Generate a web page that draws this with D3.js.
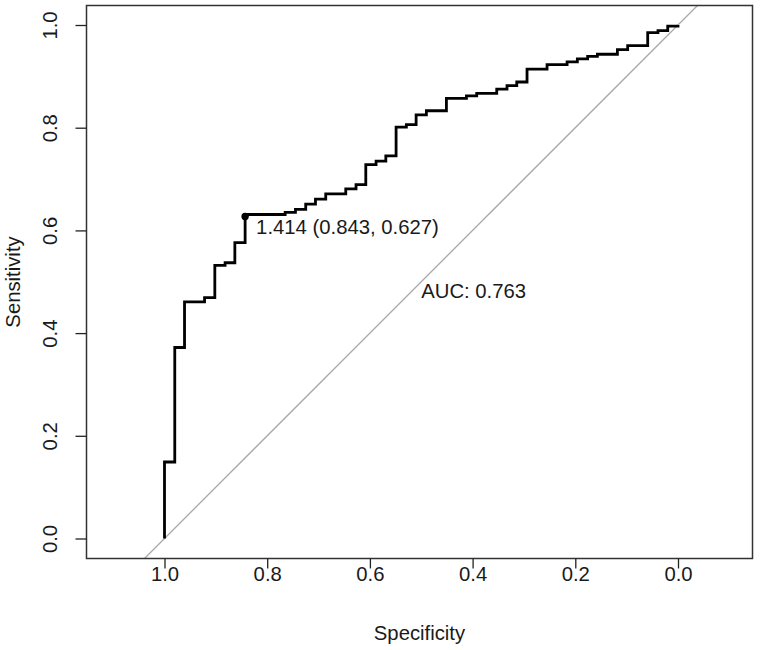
<!DOCTYPE html>
<html>
<head>
<meta charset="utf-8">
<script src="https://cdn.jsdelivr.net/npm/d3@7/dist/d3.min.js"></script>
<style>
  html, body { margin: 0; padding: 0; background: #fff; }
  svg { display: block; }
  text { font-family: "Liberation Sans", Arial, Helvetica, sans-serif; fill: #1a1a1a; }
</style>
</head>
<body>
<svg id="chart" width="760" height="650"></svg>
<script>
// ---- data ----
const specificity = [1.000,1.000,0.980,0.980,0.961,0.961,0.922,0.922,0.902,0.902,0.882,0.882,0.863,0.863,0.843,0.843,0.843,
  0.765,0.765,0.745,0.745,0.725,0.725,0.706,0.706,0.686,0.686,0.647,0.647,0.627,0.627,0.608,0.608,0.588,0.588,0.569,0.569,
  0.549,0.549,0.529,0.529,0.510,0.510,0.490,0.490,0.451,0.451,0.412,0.412,0.392,0.392,0.353,0.353,0.333,0.333,0.314,0.314,
  0.294,0.294,0.255,0.255,0.216,0.216,0.196,0.196,0.176,0.176,0.157,0.157,0.118,0.118,0.098,0.098,0.059,0.059,0.039,0.039,
  0.020,0.020,0.000,0.000];
const sensitivity = [0.000,0.149,0.149,0.372,0.372,0.461,0.461,0.469,0.469,0.532,0.532,0.537,0.537,0.576,0.576,0.627,0.631,
  0.631,0.635,0.635,0.641,0.641,0.651,0.651,0.661,0.661,0.671,0.671,0.681,0.681,0.689,0.689,0.728,0.728,0.735,0.735,0.745,
  0.745,0.801,0.801,0.806,0.806,0.825,0.825,0.833,0.833,0.857,0.857,0.862,0.862,0.867,0.867,0.875,0.875,0.882,0.882,0.889,
  0.889,0.914,0.914,0.923,0.923,0.928,0.928,0.934,0.934,0.939,0.939,0.943,0.943,0.952,0.952,0.960,0.960,0.985,0.985,0.989,
  0.989,0.998,0.998,1.000];
const xTicks = [1.0, 0.8, 0.6, 0.4, 0.2, 0.0];
const yTicks = [0.0, 0.2, 0.4, 0.6, 0.8, 1.0];
const bestThreshold = 1.414;
const bestSpec = 0.843;
const bestSens = 0.627;
const aucValue = 0.763;
const xLabel = "Specificity";
const yLabel = "Sensitivity";

// ---- layout ----
const svg = d3.select("#chart");
const box = { left: 86.5, right: 752.5, top: 5.5, bottom: 558.5 };
const x = d3.scaleLinear().domain([1, 0]).range([164.5, 678]);
const y = d3.scaleLinear().domain([0, 1]).range([538.5, 25]);
const fs = 20.3;
const ff = "'Liberation Sans', Arial, sans-serif";

// diagonal reference line (clipped to the box)
svg.append("clipPath").attr("id", "plotclip").append("rect")
  .attr("x", box.left).attr("y", box.top)
  .attr("width", box.right - box.left).attr("height", box.bottom - box.top);

const dLo = y.invert(box.bottom), dHi = y.invert(box.top);
svg.append("line")
  .attr("clip-path", "url(#plotclip)")
  .attr("x1", x(1 - dLo)).attr("y1", y(dLo))
  .attr("x2", x(1 - dHi)).attr("y2", y(dHi))
  .attr("stroke", "#a8a8a8").attr("stroke-width", 1.3);

// ROC curve
const pts = specificity.map((s, i) => [s, sensitivity[i]]);
svg.append("path")
  .datum(pts)
  .attr("fill", "none")
  .attr("stroke", "#000")
  .attr("stroke-width", 2.8)
  .attr("stroke-linejoin", "miter")
  .attr("d", d3.line().x(d => x(d[0])).y(d => y(d[1])));

// best threshold point
svg.append("circle")
  .attr("cx", x(bestSpec)).attr("cy", y(bestSens)).attr("r", 3.7)
  .attr("fill", "#000");

svg.append("text")
  .attr("x", x(bestSpec) + 11).attr("y", y(bestSens) + 17)
  .attr("font-size", fs)
  .text(`${bestThreshold.toFixed(3)} (${bestSpec.toFixed(3)}, ${bestSens.toFixed(3)})`);

// AUC label
svg.append("text")
  .attr("x", x(0.5)).attr("y", y(0.5) + 16.5)
  .attr("font-size", fs)
  .text(`AUC: ${aucValue.toFixed(3)}`);

// box
svg.append("rect")
  .attr("x", box.left).attr("y", box.top)
  .attr("width", box.right - box.left).attr("height", box.bottom - box.top)
  .attr("fill", "none").attr("stroke", "#333").attr("stroke-width", 1.5);

// x axis
const gx = svg.append("g").attr("transform", `translate(0,${box.bottom})`)
  .call(d3.axisBottom(x).tickValues(xTicks).tickFormat(d3.format(".1f")).tickSize(10));
gx.select(".domain").remove();
gx.selectAll(".tick line").attr("stroke", "#222").attr("stroke-width", 1.3);
gx.selectAll(".tick text").attr("font-size", fs).attr("dy", 0).attr("y", 22)
  .style("font-family", ff).attr("fill", "#1a1a1a");

// y axis
const gy = svg.append("g").attr("transform", `translate(${box.left},0)`)
  .call(d3.axisLeft(y).tickValues(yTicks).tickFormat(d3.format(".1f")).tickSize(11));
gy.select(".domain").remove();
gy.selectAll(".tick line").attr("stroke", "#222").attr("stroke-width", 1.3);
gy.selectAll(".tick text")
  .attr("x", null).attr("dy", null)
  .attr("text-anchor", "middle")
  .attr("transform", "translate(-29.5,0) rotate(-90)")
  .attr("font-size", fs)
  .style("font-family", ff).attr("fill", "#1a1a1a");

// axis titles
svg.append("text")
  .attr("x", (box.left + box.right) / 2).attr("y", 640)
  .attr("text-anchor", "middle").attr("font-size", fs)
  .text(xLabel);

svg.append("text")
  .attr("transform", `translate(19.5,${(box.top + box.bottom) / 2}) rotate(-90)`)
  .attr("text-anchor", "middle").attr("font-size", fs)
  .text(yLabel);
</script>
</body>
</html>
